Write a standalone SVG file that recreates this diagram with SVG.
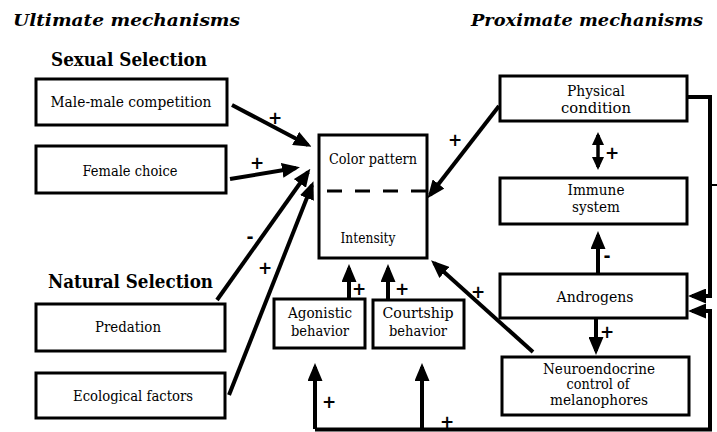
<svg xmlns="http://www.w3.org/2000/svg" width="717" height="432" viewBox="0 0 717 432">
<style>
.box{fill:#fff;stroke:#000;stroke-width:3}
.lbl{font-family:'DejaVu Serif',serif;font-size:14px;fill:#000;text-anchor:middle}
.title{font-family:'DejaVu Serif',serif;font-size:17px;font-weight:bold;font-style:italic;fill:#000}
.head{font-family:'DejaVu Serif',serif;font-size:18px;font-weight:bold;fill:#000}
.sign{font-family:'DejaVu Sans',sans-serif;font-size:17px;font-weight:bold;fill:#000;text-anchor:middle;dominant-baseline:central}
.ca{fill:none;stroke:#000;stroke-width:4;marker-end:url(#ah)}
.thin{fill:none;stroke:#000;stroke-width:2}
</style>
<defs>
<marker id="ah" markerUnits="userSpaceOnUse" markerWidth="18" markerHeight="15" refX="14" refY="7.5" orient="auto-start-reverse" viewBox="0 0 18 15">
<path d="M0,0 L18,7.5 L0,15 z" fill="#000"/>
</marker>
<marker id="ahs" markerUnits="userSpaceOnUse" markerWidth="13" markerHeight="12" refX="10" refY="6" orient="auto-start-reverse" viewBox="0 0 13 12">
<path d="M0,0 L13,6 L0,12 z" fill="#000"/>
</marker>
</defs>
<rect width="717" height="432" fill="#fff"/>
<g id="titles">
<text class="title" x="13" y="26" textLength="227" lengthAdjust="spacingAndGlyphs">Ultimate mechanisms</text>
<text class="title" x="471" y="26" textLength="232" lengthAdjust="spacingAndGlyphs">Proximate mechanisms</text>
<text class="head" x="51" y="66" textLength="156" lengthAdjust="spacingAndGlyphs">Sexual Selection</text>
<text class="head" x="48" y="288" textLength="165" lengthAdjust="spacingAndGlyphs">Natural Selection</text>
</g>
<g id="connectors">
<line class="ca" x1="232" y1="105" x2="308" y2="145"/>
<line class="ca" x1="230" y1="179" x2="296" y2="168"/>
<line class="ca" x1="217" y1="300" x2="308" y2="172"/>
<line class="ca" x1="229" y1="395" x2="312" y2="185"/>
<line class="ca" x1="499" y1="106" x2="430" y2="195"/>
<line class="ca" x1="533" y1="352" x2="434" y2="263"/>
<line class="ca" x1="349" y1="299" x2="349" y2="268"/>
<line class="ca" x1="388" y1="300" x2="388" y2="268"/>
<line x1="598" y1="135" x2="598" y2="167" stroke="#000" stroke-width="3.5" marker-start="url(#ahs)" marker-end="url(#ahs)"/>
<line class="ca" x1="598" y1="274" x2="598" y2="235"/>
<line class="ca" x1="596" y1="318" x2="596" y2="351"/>
<path class="ca" d="M687,97 H710 V296 H692"/>
<path class="ca" d="M315,429.5 H710 V311 H692"/>
<line class="ca" x1="315" y1="429" x2="315" y2="367"/>
<line class="ca" x1="422" y1="429" x2="422" y2="367"/>
<line class="thin" x1="710" y1="185" x2="717" y2="185"/>
</g>
<g id="n-male">
<rect class="box" x="36" y="79" width="191" height="46"/>
<text class="lbl" x="131" y="107" textLength="161" lengthAdjust="spacingAndGlyphs">Male-male competition</text>
</g>
<g id="n-female">
<rect class="box" x="36" y="146" width="190" height="47"/>
<text class="lbl" x="130" y="176" textLength="95" lengthAdjust="spacingAndGlyphs">Female choice</text>
</g>
<g id="n-predation">
<rect class="box" x="36" y="304" width="189" height="47"/>
<text class="lbl" x="128" y="332" textLength="66" lengthAdjust="spacingAndGlyphs">Predation</text>
</g>
<g id="n-ecological">
<rect class="box" x="36" y="373" width="189" height="45"/>
<text class="lbl" x="133" y="401" textLength="120" lengthAdjust="spacingAndGlyphs">Ecological factors</text>
</g>
<g id="n-color">
<rect class="box" x="319" y="135" width="108" height="123"/>
<text class="lbl" x="373" y="164" textLength="88" lengthAdjust="spacingAndGlyphs">Color pattern</text>
<line x1="327" y1="191" x2="426" y2="191" stroke="#000" stroke-width="3" stroke-dasharray="15 13"/>
<text class="lbl" x="368" y="243" textLength="55" lengthAdjust="spacingAndGlyphs">Intensity</text>
</g>
<g id="n-agonistic">
<rect class="box" x="274" y="299" width="91" height="49"/>
<text class="lbl" x="320" y="318" textLength="64" lengthAdjust="spacingAndGlyphs">Agonistic</text>
<text class="lbl" x="320" y="336" textLength="58" lengthAdjust="spacingAndGlyphs">behavior</text>
</g>
<g id="n-courtship">
<rect class="box" x="373" y="300" width="91" height="48"/>
<text class="lbl" x="418" y="318" textLength="71" lengthAdjust="spacingAndGlyphs">Courtship</text>
<text class="lbl" x="418" y="336" textLength="58" lengthAdjust="spacingAndGlyphs">behavior</text>
</g>
<g id="n-physical">
<rect class="box" x="500" y="76" width="187" height="45"/>
<text class="lbl" x="596" y="96" textLength="58" lengthAdjust="spacingAndGlyphs">Physical</text>
<text class="lbl" x="596" y="113" textLength="70" lengthAdjust="spacingAndGlyphs">condition</text>
</g>
<g id="n-immune">
<rect class="box" x="500" y="178" width="187" height="46"/>
<text class="lbl" x="596" y="195" textLength="57" lengthAdjust="spacingAndGlyphs">Immune</text>
<text class="lbl" x="596" y="212" textLength="48" lengthAdjust="spacingAndGlyphs">system</text>
</g>
<g id="n-androgens">
<rect class="box" x="500" y="274" width="187" height="44"/>
<text class="lbl" x="595" y="302" textLength="77" lengthAdjust="spacingAndGlyphs">Androgens</text>
</g>
<g id="n-neuro">
<rect class="box" x="502" y="357" width="187" height="58"/>
<text class="lbl" x="599" y="374" textLength="112" lengthAdjust="spacingAndGlyphs">Neuroendocrine</text>
<text class="lbl" x="598" y="389" textLength="63" lengthAdjust="spacingAndGlyphs">control of</text>
<text class="lbl" x="599" y="405" textLength="98" lengthAdjust="spacingAndGlyphs">melanophores</text>
</g>
<g id="signs">
<text class="sign" x="275" y="118">+</text>
<text class="sign" x="257" y="163">+</text>
<text class="sign" x="250" y="237">-</text>
<text class="sign" x="265" y="268">+</text>
<text class="sign" x="455" y="140">+</text>
<text class="sign" x="612" y="153">+</text>
<text class="sign" x="607" y="256">-</text>
<text class="sign" x="607" y="332">+</text>
<text class="sign" x="478" y="292">+</text>
<text class="sign" x="359" y="289">+</text>
<text class="sign" x="402" y="289">+</text>
<text class="sign" x="329" y="402">+</text>
<text class="sign" x="447" y="422">+</text>
</g>
</svg>
